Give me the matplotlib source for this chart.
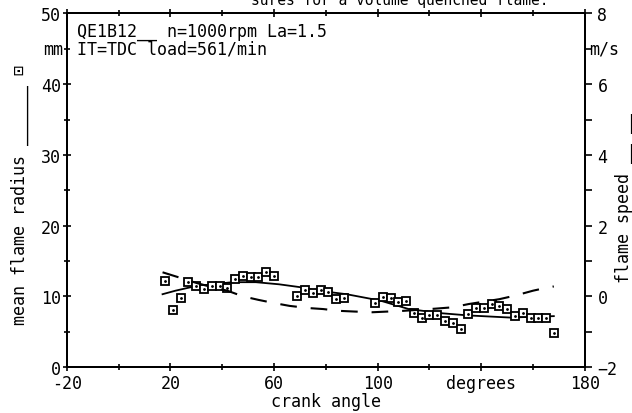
import matplotlib.pyplot as plt
from matplotlib.ticker import MultipleLocator, FixedLocator

plt.rcParams['font.family'] = ['DejaVu Sans Mono', 'DejaVu Sans']
plt.rcParams['font.size'] = 12
plt.rcParams['lines.scale_dashes'] = False

# measured mean flame radius (mm)
crank_angle = [18, 21, 24, 27, 30, 33, 36, 39, 42, 45, 48, 51, 54, 57, 60,
               69, 72, 75, 78, 81, 84, 87, 99, 102, 105, 108, 111, 114, 117,
               120, 123, 126, 129, 132, 135, 138, 141, 144, 147, 150, 153,
               156, 159, 162, 165, 168]
radius = [12.1, 8.1, 9.8, 12.0, 11.5, 11.1, 11.4, 11.4, 11.2, 12.5, 12.9,
          12.8, 12.8, 13.4, 12.9, 10.1, 10.9, 10.5, 10.9, 10.6, 9.6, 9.8,
          9.0, 9.9, 9.8, 9.2, 9.4, 7.7, 6.9, 7.4, 7.4, 6.5, 6.2, 5.4, 7.5,
          8.3, 8.4, 8.9, 8.6, 8.2, 7.2, 7.6, 7.0, 6.9, 6.9, 4.8]

# fitted radius curve (mm)
fit_angle = [17, 22, 28, 36, 44, 53, 62, 70, 75, 88, 101, 112, 125, 135,
             151, 168]
fit_radius = [10.3, 10.8, 11.3, 11.7, 12.0, 12.0, 11.7, 11.3, 10.9, 10.3,
              9.4, 8.2, 7.6, 7.3, 7.0, 7.2]

# flame speed (m/s)
speed_angle = [17, 24, 30, 36, 42, 48, 54, 60, 66, 73, 79, 85, 91, 98, 104,
               110, 116, 122, 129, 135, 141, 147, 153, 160, 165, 168]
speed = [0.68, 0.52, 0.38, 0.26, 0.16, 0.0, -0.1, -0.19, -0.27, -0.33,
         -0.36, -0.41, -0.43, -0.45, -0.43, -0.41, -0.38, -0.35, -0.31,
         -0.22, -0.15, -0.08, 0.02, 0.16, 0.24, 0.28]


def style_axes(ax, ax2):
    for side in ['left', 'right', 'top', 'bottom']:
        ax.spines[side].set_linewidth(1.4)
        ax2.spines[side].set_linewidth(1.4)
    ax.set_xlim(-20, 180)
    ax.set_ylim(0, 50)
    ax2.set_ylim(-2, 8)

    ax.xaxis.set_major_locator(FixedLocator([-20, 20, 60, 100, 140, 180]))
    ax.xaxis.set_minor_locator(FixedLocator([0, 40, 80, 120, 160]))
    ax.set_xticklabels(['-20', '20', '60', '100', 'degrees', '180'])
    ax.yaxis.set_major_locator(MultipleLocator(10))
    ax.yaxis.set_minor_locator(MultipleLocator(5))
    ax.tick_params(which='both', direction='inout', top=True, right=False,
                   width=1.2)
    ax.tick_params(which='major', length=6, pad=1)
    ax.tick_params(which='minor', length=5)
    ax.tick_params(axis='x', which='major', pad=2)

    ax2.yaxis.set_major_locator(MultipleLocator(2))
    ax2.yaxis.set_minor_locator(MultipleLocator(1))
    ax2.tick_params(which='both', direction='out', width=1.2, pad=4)
    ax2.tick_params(which='major', length=5)
    ax2.tick_params(which='minor', length=5)


fig = plt.figure(figsize=(6.32, 4.14), dpi=100)
ax = fig.add_axes([0.1055, 0.111, 0.82, 0.854])
ax2 = ax.twinx()
style_axes(ax, ax2)

ax.plot(fit_angle, fit_radius, color='black', lw=1.3)
ax.plot(crank_angle, radius, ls='none', marker='s', ms=6.3, mfc='white',
        mec='black', mew=1.3)
ax.plot(crank_angle, radius, ls='none', marker='.', ms=2, color='black')
ax2.plot(speed_angle, speed, color='black', lw=1.5, dashes=(12, 10))

ax.set_xlabel('crank angle', labelpad=0)
fig.text(20 / 632, 1 - 195 / 414, 'mean flame radius ______ \u22a1',
         rotation=90, ha='center', va='center')
fig.text(624 / 632, 1 - 283 / 414, 'flame speed __ __', rotation=90,
         ha='center', va='bottom')

ax.text(-21.5, 45, 'mm', ha='right', va='center')
ax2.text(181.5, 7, 'm/s', ha='left', va='center')
ax.text(-16, 47.5, 'QE1B12__ n=1000rpm La=1.5', va='center')
ax.text(-16, 45, 'IT=TDC load=561/min', va='center')

fig.text(0.633, 1.0, 'sures for a volume quenched flame.', ha='center',
         va='center', fontsize=10.5)

fig.savefig('out.png', dpi=100)
